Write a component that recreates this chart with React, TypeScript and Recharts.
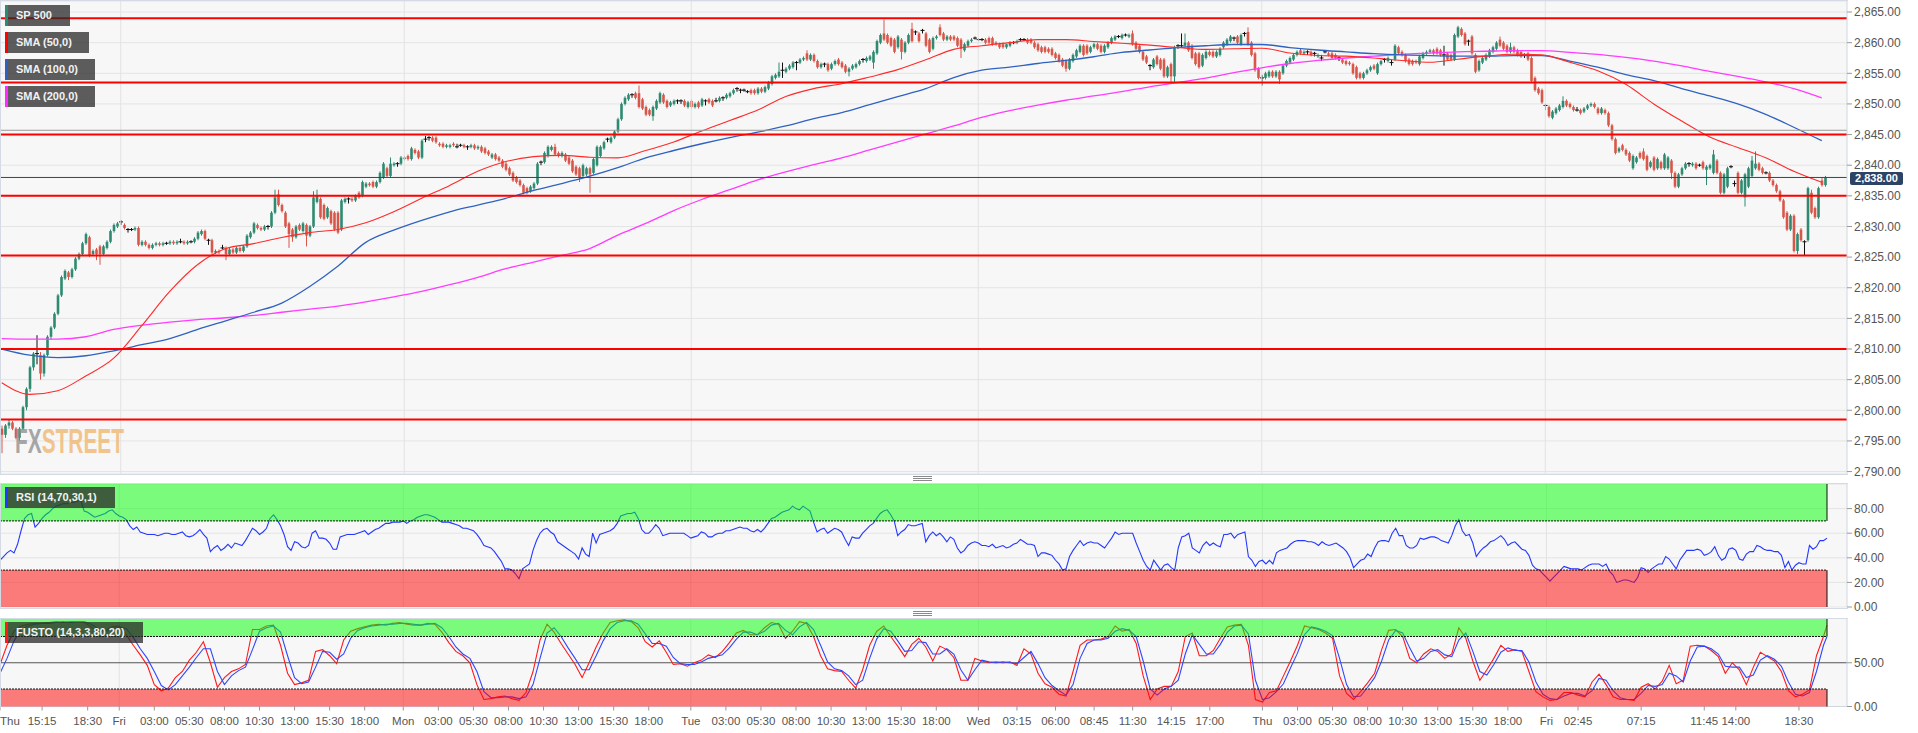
import React from "react";
import { ComposedChart, Bar, Line, XAxis, YAxis, CartesianGrid, ReferenceLine, ReferenceArea } from "recharts";

const FONT = "'Liberation Sans', Arial, sans-serif";

// 15-minute candles [open, high, low, close], one array per session
const THU1 = [
  [2797,2797.5,2793,2796],[2796,2797.75,2795.5,2797.5],[2797.5,2798.5,2797,2798],[2798,2798.25,2796.75,2797],[2797,2797.25,2795.25,2795.5],
  [2795.5,2797.25,2795,2797],[2797,2800.75,2796.75,2800.5],[2800.5,2803.75,2800,2803.5],[2803.5,2807.25,2803,2807],[2807,2809.5,2806.5,2809.25],
  [2809.25,2812.25,2807.5,2809.25],[2809,2809.5,2805,2806],[2806,2809.25,2805.5,2809],[2809,2812.25,2808.75,2812],[2812,2813.75,2811.5,2813.5],
  [2813.5,2816,2813.25,2815.75],[2815.75,2819,2815.5,2818.75],[2818.75,2822,2818.5,2821.75],[2821.5,2823,2821.25,2822.75],[2822.5,2822.75,2821.25,2821.75],
  [2821.75,2823.25,2821.5,2823],[2823,2825,2822.75,2824.75],[2824.75,2825.75,2824.5,2825.5],[2825.5,2827.5,2825.25,2827.25],[2827.25,2829,2827,2828.75],
  [2828.25,2828.5,2825,2825.25],[2825.5,2826.25,2825.25,2826],[2826.25,2826.5,2824.5,2825.5],[2826.75,2827,2823.75,2825.5],[2825.5,2827,2825.25,2826.75],
  [2826.5,2827.75,2826.25,2827.5],[2827.5,2829.5,2827.25,2829.25],[2829.25,2830.5,2829,2830.25],[2830,2830.75,2829.75,2830.5],
];
const FRI1 = [
  [2830.75,2831,2830.25,2830.75],[2830.25,2830.5,2829.5,2829.75],[2829.5,2829.75,2829,2829.5],[2829.5,2829.75,2829.25,2829.5],[2829.5,2830,2829.25,2829.75],
  [2829.75,2830,2826.75,2827],[2827,2827.75,2826.75,2827.5],[2827.5,2827.75,2826.75,2827],[2827,2827.25,2826.25,2826.5],[2826.5,2827.25,2826.25,2827],
  [2827,2827.5,2826.75,2827.25],[2827.25,2827.5,2826.75,2827],[2827,2827.5,2826.75,2827.25],[2827.25,2827.5,2827,2827.25],[2827.25,2827.75,2827,2827.5],
  [2827.5,2827.75,2827,2827.25],[2827.25,2827.75,2827,2827.5],[2827.5,2828,2827.25,2827.5],[2827.5,2827.75,2827,2827.25],[2827.25,2827.75,2827,2827.5],
  [2827.5,2827.75,2827.25,2827.5],[2827.5,2828.25,2827.25,2828],[2828,2829.25,2827.75,2829],[2828.75,2829.5,2828.5,2829.25],[2829.25,2829.5,2827.75,2828],
  [2827.75,2828,2827,2827.75],[2827.75,2828,2825.5,2825.75],[2825.75,2826.25,2825.5,2826],[2826,2826.25,2825.5,2825.75],[2826.5,2827,2826.25,2826.5],
  [2826.5,2826.75,2824.5,2825.5],[2825.5,2826.5,2825.25,2826.25],[2826.25,2826.5,2825.5,2825.75],[2825.75,2826.75,2825.5,2826.5],[2826.5,2826.75,2825.75,2826],
  [2826,2827,2825.75,2826.75],[2826.75,2828.75,2826.5,2828.5],[2828.25,2829.25,2828,2829],[2829,2830.75,2828.75,2830.5],[2830.25,2830.5,2829.5,2829.75],
  [2829.75,2830,2829.25,2829.5],[2829.5,2830.25,2829.25,2830],[2830,2830.25,2829.5,2830],[2830,2832.5,2829.75,2832.25],[2832.25,2836,2832,2834.75],
  [2835.25,2836,2833.25,2833.5],[2833.5,2833.75,2832.25,2832.5],[2832.25,2832.5,2829.75,2830],[2830.5,2830.75,2826.5,2828.75],[2829.5,2829.75,2827.5,2828.25],
  [2828.25,2830.25,2828,2830],[2830.25,2830.5,2829.25,2829.5],[2829.25,2830.75,2829,2830.5],[2830.25,2830.5,2826.75,2828.5],[2828.5,2830.25,2828.25,2830],
  [2830,2835.75,2829.75,2834.75],[2834,2836,2833.75,2835],[2834.5,2834.75,2831.25,2831.5],[2833.5,2833.75,2831,2831.25],[2831.5,2833.25,2831.25,2833],
  [2832.5,2832.75,2830.25,2830.5],[2832.25,2832.5,2829.25,2829.5],[2832.25,2832.5,2828.75,2829],[2829.5,2834.5,2829.25,2834.25],[2834,2834.75,2833.75,2834.5],
  [2834.5,2834.75,2833.75,2834.5],[2834.5,2834.75,2834,2834.25],[2834.25,2835.25,2834,2835],[2835.5,2835.75,2834.5,2834.75],[2835,2837.5,2834.75,2837.25],
  [2836.5,2837.25,2836.25,2837],[2837,2837.25,2836.5,2836.75],[2837.25,2837.5,2836.25,2836.5],[2836.5,2837.5,2836.25,2837.25],[2837.25,2839,2837,2838.75],
  [2838,2840.5,2837.75,2840.25],[2839.5,2839.75,2838,2838.25],[2838.25,2841.25,2838,2840.25],[2840,2840.5,2839.75,2840.25],[2840.25,2840.5,2839.75,2840.25],
  [2840.25,2841.5,2840,2841.25],
];
const MON = [
  [2841,2841.5,2840.75,2841.25],[2841.5,2841.75,2840.75,2841],[2841,2843,2840.75,2842.75],[2842.5,2842.75,2841.75,2842],[2842.25,2842.5,2841,2841.25],
  [2841.25,2844.25,2841,2844],[2844.25,2844.75,2843.75,2844.25],[2844.5,2844.75,2844,2844.5],[2844.5,2844.75,2843.75,2844],[2844.5,2844.75,2843.5,2843.75],
  [2843.5,2843.75,2843,2843.25],[2843.5,2843.75,2842.75,2843],[2843,2843.5,2842.75,2843.25],[2843,2843.5,2842.75,2843.25],[2843.5,2843.75,2843,2843.25],
  [2843,2843.5,2842.75,2843],[2843.25,2843.5,2843,2843.25],[2843.25,2843.5,2842.75,2843],[2843,2843.25,2842.5,2843],[2843,2843.5,2842.75,2843.25],
  [2843.25,2843.5,2842.5,2842.75],[2842.75,2843.25,2842.5,2843],[2843,2843.25,2842,2842.25],[2842.75,2843,2841.75,2842],[2842.25,2842.5,2841.5,2841.75],
  [2841.25,2842,2841,2841.75],[2841.75,2842,2840.75,2841],[2841.25,2841.5,2840.5,2840.75],[2840.75,2841,2839.5,2839.75],[2840.25,2840.5,2839,2839.25],
  [2839.5,2839.75,2838.25,2838.5],[2838.75,2839,2837.25,2837.5],[2838,2838.25,2837,2837.25],[2837.5,2837.75,2836.5,2836.75],[2836.75,2837,2835.25,2835.5],
  [2836.25,2836.5,2835.25,2835.5],[2835.75,2836.75,2835.5,2836.5],[2836.25,2837.25,2836,2837],[2837,2840.5,2836.75,2840.25],[2840.5,2840.75,2840,2840.5],
  [2840.5,2842.25,2840.25,2842],[2841.5,2843.25,2841.25,2843],[2842.5,2843.25,2842.25,2843],[2843,2843.5,2841.5,2841.75],[2842,2842.25,2841.25,2841.5],
  [2841.5,2842.25,2841.25,2842],[2841.75,2842,2840.5,2840.75],[2841.25,2841.5,2840,2840.25],[2840.75,2841,2838.75,2839],[2839.75,2840,2838.25,2838.5],
  [2839.5,2839.75,2837.25,2838],[2838.25,2840.25,2838,2840],[2838.5,2839.75,2838.25,2839.5],[2839.5,2839.75,2835.5,2838.5],[2838.75,2841.25,2838.5,2841],
  [2840,2843.25,2839.75,2843],[2841.5,2843.25,2841.25,2843],[2842.75,2844,2842.5,2843.75],[2844.25,2844.5,2843.75,2844.25],[2843.75,2844.75,2843.5,2844.5],
  [2844.5,2845.75,2844.25,2845.5],[2845.5,2847.75,2845.25,2847.5],[2847.5,2850.25,2847.25,2850],[2850,2851.25,2849.75,2851],[2850.75,2851.75,2850.5,2851.5],
  [2851.5,2851.75,2851,2851.5],[2851.75,2852,2850.75,2851],[2851.75,2853,2849.25,2849.5],[2850.75,2851,2849,2849.25],[2849.5,2849.75,2848,2848.25],
  [2849,2849.25,2848,2848.25],[2848,2849.75,2847.25,2849.5],[2849.25,2850.75,2849,2850.5],[2850.25,2852,2850,2851.75],[2851.5,2851.75,2850,2850.25],
  [2850.5,2850.75,2849.25,2849.5],[2849.75,2850.5,2849.5,2850.25],[2850,2850.75,2849.75,2850.5],[2850.5,2850.75,2850,2850.5],[2850.5,2850.75,2850,2850.5],
  [2850.5,2850.75,2849.5,2849.75],[2849.5,2850.5,2849.25,2850.25],
];
const TUE = [
  [2850.5,2850.75,2849.25,2849.5],[2849.5,2850.25,2849.25,2850],[2850.25,2850.5,2849.25,2849.5],[2849.75,2851,2849.5,2850.75],[2850.5,2850.75,2849.75,2850.5],
  [2850.75,2851,2850,2850.25],[2850.5,2850.75,2849.5,2849.75],[2850.5,2851,2850.25,2850.5],[2850.5,2851.25,2850.25,2851],[2851,2851.25,2850.5,2851],
  [2851,2851.75,2850.75,2851.5],[2851.25,2852,2851,2851.75],[2851.75,2852.5,2851.5,2852.25],[2852.5,2852.75,2852,2852.5],[2852.25,2852.5,2851.75,2852.25],
  [2852.25,2852.5,2852,2852.25],[2852,2852.25,2851.75,2852],[2852.25,2852.5,2851.5,2851.75],[2852.25,2852.5,2851.5,2851.75],[2851.75,2852.75,2851.5,2852.5],
  [2852.5,2852.75,2851.75,2852],[2852,2853,2851.75,2852.75],[2852.5,2853.75,2852.25,2853.5],[2853.25,2854.75,2853,2854.5],[2854.25,2855,2854,2854.75],
  [2854.5,2856.75,2854.25,2855.25],[2855.5,2856.75,2854.25,2855.5],[2855.25,2856,2855,2855.75],[2855.75,2856.5,2855.5,2856.25],[2856,2857,2855.75,2856.75],
  [2856.75,2857,2855.5,2856.75],[2856.75,2857.5,2856.5,2857.25],[2857.25,2857.75,2857,2857.5],[2858.25,2858.75,2857,2857.25],[2857.25,2858.25,2857,2858],
  [2858,2858.25,2856.75,2857],[2857,2857.25,2855.75,2856],[2856,2856.75,2855.75,2856.5],[2856.5,2856.75,2856,2856.5],[2856.5,2856.75,2855.25,2855.5],
  [2855.75,2856.75,2855.5,2856.5],[2856.5,2857.25,2856.25,2857],[2857.25,2857.5,2856.25,2856.5],[2856.75,2857,2855.75,2856],[2856.25,2856.5,2855,2855.25],
  [2855.25,2856,2854.5,2855.75],[2855.75,2856.5,2855.5,2856.25],[2856,2856.75,2855.75,2856.5],[2856.5,2857.25,2856.25,2857],[2857.25,2857.5,2856.75,2857.25],
  [2857,2857.75,2856.75,2857.5],[2857.25,2858,2857,2857.75],[2856.75,2858.75,2855.75,2858.5],[2858.25,2860.5,2858,2860.25],[2860,2861.5,2859.75,2861.25],
  [2861.5,2863.75,2860.25,2860.5],[2861.25,2861.5,2859.75,2860],[2860.75,2861,2859.25,2859.5],[2860.5,2860.75,2858.25,2858.5],[2859.25,2861.25,2859,2861],
  [2860.5,2860.75,2857.25,2858.5],[2858.5,2860.25,2858.25,2860],[2860,2861.5,2859.75,2861.25],[2862.25,2863.25,2860,2860.25],[2861.75,2862,2861.25,2861.75],
  [2861.5,2861.75,2860,2860.25],[2862,2862.25,2861.5,2862],[2861.5,2861.75,2859.25,2859.5],[2860.5,2860.75,2858.25,2858.5],[2859,2861,2858.75,2860.75],
  [2860.75,2861.25,2860.5,2861],[2862.5,2863,2861,2861.25],[2861.5,2861.75,2860.25,2860.5],[2860.5,2861.25,2860.25,2861],[2861,2861.25,2860.25,2860.5],
  [2861,2861.25,2860.25,2860.5],[2860.75,2861,2859.25,2859.5],[2860.5,2860.75,2857.5,2859],[2858.75,2860,2858.5,2859.75],[2859.5,2860.5,2859.25,2860.25],
  [2860.25,2860.75,2860,2860.5],[2860.75,2861,2860.5,2860.75],
];
const WED = [
  [2860.5,2860.75,2860.25,2860.5],[2860.5,2860.75,2860.25,2860.5],[2860.5,2860.75,2859.75,2860],[2860.75,2861,2859.75,2860],[2860.75,2861,2859.5,2859.75],
  [2860,2860.25,2859.5,2859.75],[2859.75,2860,2859,2859.25],[2859.75,2860,2859,2859.25],[2859.25,2859.75,2859,2859.75],[2859.5,2860.25,2859.25,2860],
  [2860,2860.25,2859.75,2860],[2860,2860.5,2859.75,2860.25],[2860.5,2860.75,2860.25,2860.5],[2860.5,2860.75,2860.25,2860.5],[2860.5,2860.75,2859.75,2860],
  [2860.5,2860.75,2859.75,2860],[2860,2860.25,2859,2859.25],[2859.75,2860,2858.5,2858.75],[2859.25,2859.5,2858.25,2858.5],[2859.25,2859.5,2858.25,2858.5],
  [2859,2859.25,2858.25,2858.5],[2859,2859.25,2857.75,2858],[2858.25,2858.5,2857.25,2857.5],[2858,2858.25,2856.75,2857],[2857.25,2857.5,2856,2856.25],
  [2857,2857.25,2855.25,2855.75],[2855.75,2857.5,2855.5,2857.25],[2857,2858.25,2856.75,2858],[2857.75,2859,2857.5,2858.75],[2858.5,2859.75,2858.25,2859.5],
  [2859.5,2859.75,2857.75,2858],[2859.5,2859.75,2858,2858.25],[2858.5,2859.5,2858.25,2859.25],[2859.25,2860,2859,2859.75],[2859.75,2860,2858.75,2859],
  [2859.5,2859.75,2858.25,2858.5],[2858.5,2859.75,2858.25,2859.5],[2859.25,2860.25,2859,2860],[2860,2861,2859.75,2860.75],[2860.5,2861.25,2860.25,2861],
  [2861,2861.25,2860.75,2861],[2860.75,2861.5,2860.5,2861.25],[2861.25,2861.5,2861,2861.25],[2861,2861.5,2860.75,2861.25],[2861.5,2862,2859.5,2859.75],
  [2860,2860.25,2858.75,2859],[2859.5,2859.75,2858.25,2858.5],[2858.5,2858.75,2857,2857.25],[2857.75,2858,2856.5,2856.75],[2856.25,2856.5,2855.5,2856.25],
  [2856,2857.5,2855.75,2857.25],[2857.75,2858,2856.25,2856.5],[2857.25,2857.5,2855.5,2855.75],[2857.25,2857.5,2854.25,2854.5],[2854.5,2856.25,2854.25,2856],
  [2856.5,2856.75,2853.5,2854.5],[2854.5,2859.5,2853.5,2859.25],[2859.5,2859.75,2859,2859.5],[2859.5,2861.5,2859.25,2859.5],[2859.5,2861.5,2859.25,2860],
  [2860,2860.25,2858.5,2858.75],[2859.5,2859.75,2857.25,2857.5],[2858.25,2858.5,2856.25,2856.5],[2858.25,2858.5,2855.75,2856],[2856.25,2858.25,2856,2858],
  [2857.5,2858.75,2857.25,2858.5],[2858.5,2858.75,2857.75,2858],[2858.5,2858.75,2857.5,2857.75],[2857.75,2858.75,2857.5,2858.5],[2858,2859.25,2857.75,2859],
  [2859.25,2860.25,2859,2860],[2859.75,2860.75,2859.5,2860.5],[2860.25,2861.25,2860,2861],[2860.75,2861,2860.25,2860.75],[2861,2861.25,2859.75,2860],
  [2859.75,2861.5,2859.5,2861.25],[2861.5,2861.75,2861,2861.5],[2861.75,2862.5,2859.5,2859.75],[2860,2860.25,2857.75,2858],[2858.25,2858.5,2855.25,2855.5],
  [2855.75,2856,2854,2854.25],
];
const THU2 = [
  [2854.25,2854.75,2853,2854.25],[2854.25,2855.25,2854,2855],[2854.5,2855.5,2854.25,2855.25],[2855.25,2855.5,2854.25,2854.5],[2854.5,2855.5,2854.25,2855.25],
  [2855.25,2855.5,2853.25,2854],[2855,2856.5,2854.75,2856.25],[2856.25,2857.25,2856,2857],[2856.75,2857.75,2856.5,2857.5],[2857.25,2858.25,2857,2858],
  [2858,2858.75,2857.75,2858.5],[2858.75,2859,2858,2858.25],[2858.25,2858.75,2858,2858.5],[2858.5,2858.75,2858,2858.5],[2858.5,2858.75,2857.75,2858],
  [2858.25,2858.5,2857.75,2858.25],[2857.75,2858.25,2857.5,2858],[2857.5,2858,2857,2857.5],[2858.5,2858.75,2858.25,2858.5],[2858.25,2858.5,2857.75,2858],
  [2858.25,2858.5,2857.25,2857.5],[2858,2858.25,2857.25,2857.5],[2857.5,2857.75,2857,2857.5],[2857.25,2857.5,2856.5,2856.75],[2857,2857.25,2856.25,2856.5],
  [2856.75,2857,2856.25,2856.5],[2856.5,2856.75,2854.75,2855],[2856,2856.25,2854,2854.25],[2855,2855.25,2854,2854.25],[2854.25,2855.25,2854,2855],
  [2855,2855.75,2854.75,2855.5],[2855.5,2856.25,2855.25,2856],[2856.25,2856.5,2855.5,2855.75],[2855,2856.75,2854.75,2856.5],[2856.5,2857.25,2856.25,2857],
  [2857.25,2857.5,2856.75,2857.25],[2857,2857.75,2856.75,2857.5],[2856.75,2857.25,2856.25,2856.75],[2857.25,2859.75,2857,2859.5],[2859.25,2859.5,2858,2858.25],
  [2858.5,2858.75,2857.75,2858],[2858,2858.25,2856.75,2857],[2857.25,2857.5,2856.25,2856.5],[2857,2857.25,2856.25,2856.5],[2857,2857.25,2856.5,2856.75],
  [2856.5,2858,2856.25,2857.75],[2857.5,2858.5,2857.25,2858.25],[2858.25,2858.75,2858,2858.5],[2858.5,2859,2858.25,2858.75],[2858.75,2859,2858,2858.25],
  [2859,2859.25,2858,2858.25],[2858.75,2859,2857.75,2858],[2858,2859.5,2856.25,2858],[2858.25,2858.5,2857,2857.25],[2858,2858.25,2857,2857.25],
  [2857.25,2861.5,2857,2861.25],[2861,2862.75,2860.75,2862.5],[2862.25,2862.5,2861,2861.25],[2861.5,2861.75,2859.5,2859.75],[2860.25,2860.5,2859.5,2860.25],
  [2861,2861.25,2858,2858.25],[2858,2858.25,2855,2855.25],[2855.5,2857.25,2855.25,2857],[2856.75,2857.75,2856.5,2857.5],[2857.25,2858.25,2857,2858],
  [2857.75,2859,2857.5,2858.75],[2858.5,2859.5,2858.25,2859.25],[2859,2860.25,2858.75,2860],[2860.5,2861,2859.25,2859.5],[2860,2860.25,2858.75,2859],
  [2859.5,2859.75,2858.25,2858.5],[2858.5,2860,2858.25,2859.25],[2859.25,2859.5,2858.25,2858.5],[2858.75,2859,2857.75,2858],[2858.5,2858.75,2857.5,2857.75],
  [2858,2858.25,2857.5,2858],[2858.25,2858.5,2857,2857.25],[2857.5,2857.75,2853.5,2853.75],[2854.25,2854.5,2852,2852.25],[2852.5,2852.75,2851.5,2851.75],
  [2852.25,2852.5,2850,2850.25],
];
const FRI2 = [
  [2849.75,2850,2849,2849.75],[2849.5,2849.75,2847.75,2848],[2847.75,2849,2847.5,2848.75],[2848.5,2849.5,2848.25,2849.25],[2849,2850,2848.75,2849.75],
  [2849.5,2851.25,2849.25,2850.5],[2850.5,2850.75,2849.5,2849.75],[2850,2850.25,2849.25,2849.5],[2849.5,2849.75,2848.75,2849],[2849,2849.5,2848.75,2849],
  [2849,2849.25,2848.25,2848.5],[2848.75,2849.5,2848.5,2849.25],[2849.25,2850,2849,2849.75],[2849.75,2850.25,2849.5,2850],[2850,2850.25,2849.25,2849.5],
  [2849.25,2849.5,2848.25,2848.5],[2848.5,2849.5,2848.25,2849.25],[2849,2849.25,2848.25,2848.5],[2848.5,2848.75,2846.25,2846.5],[2846.5,2846.75,2844,2844.25],
  [2844.25,2844.5,2841.75,2842],[2842.25,2843,2842,2842.75],[2843.25,2843.5,2842.25,2842.5],[2842.5,2842.75,2841.5,2841.75],[2842,2842.25,2840.5,2840.75],
  [2839.5,2841.75,2839.25,2841.5],[2840.5,2841.5,2840.25,2841.25],[2842,2842.25,2841,2841.25],[2842.25,2842.75,2840.75,2841],[2841.5,2841.75,2839,2839.25],
  [2839.75,2840.75,2839.5,2840.5],[2841.25,2841.5,2839,2839.25],[2839.5,2841.25,2839.25,2841],[2840.5,2840.75,2839.25,2839.5],[2839.5,2842,2839.25,2841.75],
  [2839.5,2841.5,2839.25,2841.25],[2840.75,2841,2837.75,2838.75],[2838.75,2839,2836.25,2836.5],[2836.5,2838.75,2836.25,2838.5],[2838.5,2839.75,2838.25,2839.5],
  [2839.5,2840.5,2839.25,2840.25],[2840.25,2840.5,2839.75,2840.25],[2840,2840.5,2839.75,2840.25],[2840.25,2840.5,2839.25,2839.5],[2840,2840.25,2839.75,2840],
  [2840.5,2840.75,2839.25,2839.5],[2839.25,2840,2836.75,2839.75],[2839.5,2840.25,2839.25,2840],[2838.75,2842.5,2838.5,2841.75],[2840.75,2841,2838.5,2838.75],
  [2838.75,2839,2835.25,2835.5],[2835.5,2838.75,2835.25,2838.5],[2836.5,2839.75,2836.25,2839.5],[2839.75,2840,2839.5,2839.75],[2837,2837.5,2836.5,2837],
  [2838.75,2839,2835.25,2835.5],[2835.5,2837.75,2835.25,2837.5],[2834.75,2838.75,2833.25,2838.5],[2836.5,2839.75,2836.25,2839.5],[2838.25,2841.5,2838,2840.75],
  [2839.5,2842.25,2839.25,2840.25],[2840.25,2840.5,2839,2839.25],[2839.5,2839.75,2838.5,2838.75],[2838.75,2839,2838.5,2838.75],[2838.75,2839,2837.25,2837.5],
  [2837.5,2837.75,2836.5,2836.75],[2836.75,2837,2835.5,2835.75],[2835.75,2836,2834,2834.25],[2834.25,2834.5,2831.25,2831.5],[2832.25,2832.5,2829.25,2829.5],
  [2829.5,2832,2829.25,2831.75],[2831.75,2832,2825.75,2826],[2826,2829,2825.5,2828.75],[2829.5,2829.75,2827.5,2827.75],[2827.5,2827.75,2825.25,2827.5],
  [2827.75,2836.5,2827.5,2836.25],[2835.5,2836,2832,2832.25],[2833,2833.25,2831.25,2831.5],[2831.5,2836.5,2831.25,2836.25],[2837.5,2838,2836.5,2836.75],
  [2836.75,2838.25,2836.5,2838],
];

// x-axis labels, placed at bar index
const TICK_BARS = [0,12,25,34,44,54,64,74,84,94,104,115,125,135,145,155,165,175,185,197,207,217,227,237,247,257,267,279,290,301,312,323,334,345,360,370,380,390,400,410,420,430,441,450,468,486,495,513];
const TICK_TEXT = ["Thu","15:15","18:30","Fri","03:00","05:30","08:00","10:30","13:00","15:30","18:00","Mon","03:00","05:30","08:00","10:30","13:00","15:30","18:00","Tue","03:00","05:30","08:00","10:30","13:00","15:30","18:00","Wed","03:15","06:00","08:45","11:30","14:15","17:00","Thu","03:00","05:30","08:00","10:30","13:00","15:30","18:00","Fri","02:45","07:15","11:45","14:00","18:30"];
const DAY_STARTS = [34, 115, 197, 279, 360, 441];

const PRICE_TICKS = [2790,2795,2800,2805,2810,2815,2820,2825,2830,2835,2840,2845,2850,2855,2860,2865];
const LEVELS = [2864, 2853.5, 2845, 2835, 2825.25, 2810, 2798.5];
const PREV_LEVEL = 2845.7;
const LAST_PRICE = 2838;

// moving averages, one value every SMA_STEP bars
const SMA_STEP = 8;
const SMA50 = [
  2804.5,2802.6,2803.2,2805.6,2808.5,2813.8,2819.4,2823.8,2826.4,2827.2,
  2828.2,2829.0,2829.5,2830.6,2832.4,2834.6,2836.7,2839.0,2840.6,2841.4,
  2841.6,2841.3,2841.2,2842.4,2843.8,2845.6,2847.3,2849.0,2851.2,2852.5,
  2853.3,2854.4,2855.6,2857.2,2858.9,2859.5,2860.0,2860.5,2860.5,2860.2,
  2859.9,2859.6,2859.2,2858.9,2859.0,2859.1,2858.3,2857.9,2857.8,2857.5,
  2857.1,2856.8,2857.3,2857.8,2858.1,2858.0,2856.8,2855.4,2853.2,2850.0,
  2847.2,2844.6,2842.9,2841.2,2839.0,2837.2,
];
const SMA100 = [
  2810.0,2809.0,2808.6,2808.9,2809.7,2810.7,2811.7,2813.2,2814.6,2816.0,
  2817.5,2820.2,2823.5,2827.4,2829.4,2831.0,2832.4,2833.5,2834.6,2835.9,
  2837.0,2838.2,2839.6,2841.2,2842.4,2843.5,2844.5,2845.4,2846.4,2847.6,
  2848.6,2849.9,2851.2,2852.5,2854.3,2855.5,2856.0,2856.6,2857.1,2857.7,
  2858.4,2858.8,2859.2,2859.5,2859.7,2859.7,2859.2,2858.8,2858.5,2858.2,
  2858.0,2857.9,2857.8,2857.8,2857.9,2857.9,2857.0,2856.0,2854.8,2853.8,
  2852.5,2851.3,2850.0,2848.3,2846.2,2844.0,
];
const SMA200 = [
  2811.7,2811.6,2811.6,2812.0,2813.2,2813.9,2814.4,2814.8,2815.1,2815.5,
  2816.0,2816.5,2817.0,2817.7,2818.5,2819.4,2820.5,2821.7,2823.1,2824.2,
  2825.3,2826.4,2828.6,2830.5,2832.6,2834.4,2836.0,2837.6,2838.9,2840.1,
  2841.2,2842.5,2843.8,2845.1,2846.4,2847.8,2848.9,2849.8,2850.6,2851.3,
  2852.0,2852.8,2853.5,2854.2,2855.1,2855.9,2856.6,2857.1,2857.5,2857.8,
  2858.1,2858.3,2858.5,2858.6,2858.7,2858.7,2858.4,2858.1,2857.6,2857.0,
  2856.2,2855.3,2854.5,2853.6,2852.5,2851.0,
];

// RSI (14), one value per bar
const RSI = [
  38,41,44,46,44,51,62,72,75,76, 65,68,72,75,77,80,82,83,84,84, 85,85,86,87,78,77,75,73,74,75, 76,78,79,76,74,73,71,66,63,65,
  61,60,59,59,59,58,59,60,60,59, 59,60,61,58,57,58,60,63,59,56, 45,48,50,46,48,51,48,52,51,50, 54,59,64,62,59,61,64,72,75,71,
  66,59,49,46,53,52,49,48,50,60, 62,56,56,55,52,47,47,57,58,59, 59,59,60,61,62,59,61,63,64,66, 68,68,69,69,69,70,68,70,71,73,
  74,75,75,74,73,71,69,69,69,68, 67,66,64,64,63,62,59,55,50,49, 48,45,41,37,31,31,30,27,23,31, 33,35,46,54,60,63,64,61,59,53,
  51,49,47,45,43,39,48,43,41,60, 52,59,60,61,62,64,68,74,75,76, 76,77,72,63,60,60,63,67,64,58, 59,60,60,60,60,60,58,56,57,58,
  61,60,57,57,59,60,60,62,62,63, 64,65,64,64,62,61,63,61,64,68, 72,73,75,77,78,79,82,80,79,82, 80,78,69,61,63,64,60,62,64,63,
  61,55,50,57,56,56,60,63,66,68, 72,76,78,79,75,70,58,61,63,67, 66,66,67,68,53,58,61,58,60,57, 53,57,55,48,44,46,50,52,53,52,
  50,50,49,51,48,49,50,48,49,51, 52,55,53,51,51,50,41,44,44,43, 42,38,35,30,31,41,46,50,54,50, 52,53,52,52,50,48,52,56,61,59,
  60,60,60,60,52,45,38,33,30,38, 34,30,34,35,32,30,48,57,58,60, 48,46,44,50,53,50,52,50,49,59, 59,60,56,59,60,61,41,38,33,37,
  38,35,38,35,44,46,47,48,51,53, 54,54,54,53,53,52,50,53,51,50, 51,52,50,48,45,40,32,35,38,39, 43,41,48,53,54,54,53,60,64,58,
  58,50,48,48,50,56,55,56,57,57, 56,54,53,52,58,66,71,62,58,59, 52,41,45,48,50,53,54,56,58,55, 50,52,53,50,47,46,42,34,31,30,
  27,24,21,24,27,30,33,32,31,31, 31,30,32,34,35,35,35,33,35,29, 26,20,21,22,22,21,20,24,32,31, 28,31,33,35,35,41,39,35,31,38,
  42,46,46,46,47,46,42,43,45,49, 42,38,40,47,48,46,39,38,43,45, 45,50,49,47,46,46,45,45,42,32, 37,30,34,36,35,35,50,47,49,54,
  54,56,
];

// full stochastic %K (red) and %D (blue): every second bar, last value on the final bar
const STOCH_K = [
  48,70,86,92,94,95,95,96,97,96, 97,97,96,91,85,87,91,92,82,70, 59,47,25,18,21,33,40,53,62,74, 50,22,33,40,43,48,88,88,92,93,
  70,38,25,27,30,63,65,58,49,76, 86,89,91,93,94,93,95,96,94,93, 93,95,94,85,73,63,58,50,25,8, 9,11,12,9,7,16,40,76,94,85,
  72,60,48,33,50,68,84,96,98,99, 97,90,74,68,75,62,48,49,46,50, 53,59,56,63,73,84,87,82,82,90, 96,94,78,86,97,95,80,58,43,41,
  40,30,21,42,70,86,92,80,69,57, 71,78,68,52,69,65,56,30,30,55, 52,50,51,50,51,47,66,60,38,26, 22,14,12,40,70,76,76,77,80,92,
  86,88,72,35,8,20,23,23,40,80, 84,58,58,64,78,91,93,94,70,8, 5,16,18,35,52,70,92,90,88,84, 78,35,15,8,17,27,38,65,87,88,
  80,55,50,60,66,63,55,60,90,78, 52,30,42,55,70,63,65,63,40,17, 11,7,8,16,16,13,11,28,37,25, 11,8,8,7,22,26,20,29,47,26,
  30,69,70,69,64,57,38,50,42,25, 45,62,57,52,40,18,11,14,19,58, 80,93,
];
const STOCH_D = [
  38,55,75,88,92,94,95,95,96,97, 96,97,97,94,89,86,88,91,89,79, 66,55,40,24,19,25,35,45,56,66, 66,40,25,35,41,45,65,86,90,92,
  85,58,33,26,28,45,63,62,54,60, 78,87,90,92,93,94,94,95,95,94, 93,94,95,90,80,68,60,55,40,17, 10,10,11,11,9,11,25,55,84,90,
  80,67,55,42,42,58,75,89,96,98, 98,94,83,72,72,69,56,49,48,48, 51,55,57,59,67,77,85,85,82,86, 93,95,87,82,91,96,88,70,51,43,
  41,35,25,30,55,77,89,86,75,63, 64,74,73,60,60,66,60,42,30,42, 53,51,50,51,50,49,56,63,49,33, 24,18,13,25,55,72,76,76,78,86,
  89,87,80,52,20,13,20,23,30,60, 82,71,60,60,71,85,92,93,83,30, 8,10,17,26,44,61,82,91,89,86, 81,55,25,11,12,22,33,52,76,87,
  84,67,52,55,63,65,59,57,76,84, 63,40,36,48,62,67,64,64,51,28, 14,9,8,12,15,15,12,18,32,30, 18,10,8,8,15,24,23,25,38,35,
  28,52,68,69,66,60,46,45,45,33, 36,53,58,54,46,28,14,12,16,40, 70,80,
];

const CANDLES = [...THU1, ...FRI1, ...MON, ...TUE, ...WED, ...THU2, ...FRI2];
const LAST = CANDLES.length - 1;
const stochBar = (k: number) => (k < STOCH_K.length - 1 ? k * 2 : LAST);
const kAt = new Map<number, number>();
const dAt = new Map<number, number>();
STOCH_K.forEach((v, k) => kAt.set(stochBar(k), v));
STOCH_D.forEach((v, k) => dAt.set(stochBar(k), v));
const smaAt = (arr: number[], i: number) => (i % SMA_STEP === 0 && i / SMA_STEP < arr.length ? arr[i / SMA_STEP] : null);

const rows = CANDLES.map(([o, h, l, c], i) => ({
  i, o, h, l, c,
  range: [l, h],
  s50: smaAt(SMA50, i),
  s100: smaAt(SMA100, i),
  s200: smaAt(SMA200, i),
  rsi: RSI[i],
  k: kAt.get(i) ?? null,
  d: dAt.get(i) ?? null,
}));

const W = 1918;
const AXIS_W = 71;
const X_PAD = { left: 0, right: 20 };
const UP = "#2e8a70";
const DOWN = "#d8574a";

function Candle(props: any) {
  const { x, y, width, height, payload } = props;
  if (payload == null || height == null) return null;
  const { o, h, l, c } = payload;
  const cx = x + width / 2;
  const span = h - l || 1;
  const py = (v: number) => y + ((h - v) / span) * height;
  const flat = o === c;
  const color = flat ? "#111" : c > o ? UP : DOWN;
  const top = py(Math.max(o, c));
  const bot = py(Math.min(o, c));
  return (
    <g>
      <line x1={cx} x2={cx} y1={y} y2={y + height} stroke={color} strokeWidth={1} />
      {flat ? (
        <line x1={cx - 2} x2={cx + 2} y1={top} y2={top} stroke={color} strokeWidth={1} />
      ) : (
        <rect x={cx - 1.3} y={top} width={2.6} height={Math.max(bot - top, 1)} fill={color} />
      )}
    </g>
  );
}

const fmt = (v: number) => v.toLocaleString("en-US", { minimumFractionDigits: 2, maximumFractionDigits: 2 });

function XTick(props: any) {
  const { x, y, payload } = props;
  const idx = TICK_BARS.indexOf(payload.value);
  const first = payload.value === 0;
  return (
    <text x={first ? 0 : x} y={y} dy="0.71em" textAnchor={first ? "start" : "middle"} fontSize={11.5} fill="#555" fontFamily={FONT}>
      {TICK_TEXT[idx]}
    </text>
  );
}

const yAxisProps = {
  orientation: "right" as const,
  width: AXIS_W,
  tick: { fontSize: 12, fill: "#555", fontFamily: FONT },
  tickLine: { stroke: "#999" },
  axisLine: { stroke: "#cfd6e0" },
  tickSize: 5,
  tickMargin: 2,
  interval: 0 as const,
  tickFormatter: fmt,
  allowDataOverflow: true,
};

function Tag({ x, y, w, bar, text }: { x: number; y: number; w: number; bar: string; text: string }) {
  return (
    <div
      style={{
        position: "absolute", left: x, top: y, width: w, height: 21, boxSizing: "border-box",
        background: "rgba(40,40,40,0.75)", borderLeft: `3px solid ${bar}`, color: "#f2f2f2",
        font: `bold 11px ${FONT}`, lineHeight: "21px", paddingLeft: 8, whiteSpace: "nowrap",
      }}
    >
      {text}
    </div>
  );
}

function Handle({ y }: { y: number }) {
  return (
    <div style={{ position: "absolute", left: 913, top: y, width: 19 }}>
      {[0, 2, 4].map((d) => (
        <div key={d} style={{ position: "absolute", top: d, width: 19, height: 1, background: "#8a8a8a" }} />
      ))}
    </div>
  );
}

// the overbought / oversold zones with their dotted inner edge and solid right edge
function zones(lo: number, hi: number) {
  return [
    <ReferenceArea key="hiz" x1={0} x2={LAST} y1={hi} y2={100} fill="#00ff00" fillOpacity={0.5} stroke="none" zIndex={600} />,
    <ReferenceArea key="loz" x1={0} x2={LAST} y1={0} y2={lo} fill="#ff0000" fillOpacity={0.5} stroke="none" zIndex={600} />,
    <ReferenceLine key="hil" segment={[{ x: 0, y: hi }, { x: LAST, y: hi }]} stroke="#111" strokeDasharray="2 1" zIndex={650} />,
    <ReferenceLine key="lol" segment={[{ x: 0, y: lo }, { x: LAST, y: lo }]} stroke="#111" strokeDasharray="2 1" zIndex={650} />,
    <ReferenceLine key="hie" segment={[{ x: LAST, y: hi }, { x: LAST, y: 100 }]} stroke="#111" zIndex={650} />,
    <ReferenceLine key="loe" segment={[{ x: LAST, y: 0 }, { x: LAST, y: lo }]} stroke="#111" zIndex={650} />,
  ];
}

export default function App() {
  return (
    <div style={{ position: "absolute", left: 0, top: 0, width: W, height: 733, background: "#fff", fontFamily: FONT, overflow: "hidden" }}>
      <style>{`.recharts-surface{overflow:visible}`}</style>
      {/* price panel */}
      <div style={{ position: "absolute", left: 0, top: 0 }}>
        <ComposedChart width={W} height={474} data={rows} margin={{ top: 1, right: 0, bottom: 0, left: 0 }} barCategoryGap={0}>
          <CartesianGrid vertical={false} stroke="#e4e4e4" fill="#f7f7f7" />
          <XAxis dataKey="i" type="category" hide padding={X_PAD} />
          <YAxis {...yAxisProps} domain={[2789.6, 2866.8]} ticks={PRICE_TICKS} />
          {DAY_STARTS.map((d) => (
            <ReferenceLine key={d} x={d} stroke="#e2e2e2" />
          ))}
          <Line dataKey="s200" stroke="#ff3cff" strokeWidth={1.3} dot={false} connectNulls type="monotone" isAnimationActive={false} />
          <Line dataKey="s100" stroke="#2f62c0" strokeWidth={1.3} dot={false} connectNulls type="monotone" isAnimationActive={false} />
          <Line dataKey="s50" stroke="#ff2a2a" strokeWidth={1.1} dot={false} connectNulls type="monotone" isAnimationActive={false} />
          <Bar dataKey="range" shape={(p: any) => <Candle {...p} />} isAnimationActive={false} />
          {LEVELS.map((v) => (
            <ReferenceLine key={v} y={v} stroke="#ff0000" strokeWidth={2} />
          ))}
          <ReferenceLine y={PREV_LEVEL} stroke="#9a9a9a" />
          <ReferenceLine y={LAST_PRICE} stroke="#2d4466" />
        </ComposedChart>
      </div>

      {/* RSI panel */}
      <div style={{ position: "absolute", left: 0, top: 483 }}>
        <ComposedChart width={W} height={125} data={rows} margin={{ top: 1, right: 0, bottom: 1, left: 0 }}>
          <CartesianGrid vertical={false} stroke="#e4e4e4" fill="#f7f7f7" />
          <XAxis dataKey="i" type="category" hide padding={X_PAD} />
          <YAxis {...yAxisProps} domain={[0, 100]} ticks={[0, 20, 40, 60, 80]} />
          {DAY_STARTS.map((d) => (
            <ReferenceLine key={d} x={d} stroke="#e2e2e2" />
          ))}
          <Line dataKey="rsi" stroke="#2438ff" strokeWidth={1.1} dot={false} isAnimationActive={false} />
          {zones(30, 70)}
        </ComposedChart>
      </div>

      {/* stochastic panel */}
      <div style={{ position: "absolute", left: 0, top: 618 }}>
        <ComposedChart width={W} height={115} data={rows} margin={{ top: 1, right: 0, bottom: 0, left: 0 }}>
          <CartesianGrid vertical={false} horizontal={false} fill="#f7f7f7" />
          <XAxis
            dataKey="i"
            type="category"
            padding={X_PAD}
            height={26.5}
            ticks={TICK_BARS}
            interval={0}
            tick={<XTick />}
            tickSize={4}
            tickMargin={6}
            tickLine={{ stroke: "#999" }}
            axisLine={{ stroke: "#cfd6e0" }}
          />
          <YAxis {...yAxisProps} domain={[0, 100]} ticks={[0, 50]} />
          {DAY_STARTS.map((d) => (
            <ReferenceLine key={d} x={d} stroke="#e2e2e2" />
          ))}
          <ReferenceLine y={50} stroke="#555" strokeWidth={1.2} />
          <Line dataKey="k" stroke="#ff1a1a" strokeWidth={1.1} dot={false} connectNulls isAnimationActive={false} />
          <Line dataKey="d" stroke="#2f48ff" strokeWidth={1.1} dot={false} connectNulls isAnimationActive={false} />
          {zones(20, 80)}
        </ComposedChart>
      </div>

      {/* watermark: one condensed text */}
      <svg style={{ position: "absolute", left: 12, top: 420, opacity: 0.75 }} width={140} height={40}>
        <g transform="translate(3,33) scale(0.58,1)">
          <text x={0} y={0} fontSize={36} fontWeight="bold" fontFamily={FONT}>
            <tspan fill="#8c8c8c">FX</tspan>
            <tspan fill="#f0b46c">STREET</tspan>
          </text>
        </g>
      </svg>

      {/* panel frames */}
      <div style={{ position: "absolute", left: 0, top: 0, width: 1847, height: 473, border: "1px solid #d5dbe5", borderRight: "none", pointerEvents: "none" }} />
      <div style={{ position: "absolute", left: 0, top: 483, width: 1847, height: 124, border: "1px solid #d5dbe5", borderRight: "none", pointerEvents: "none" }} />
      <div style={{ position: "absolute", left: 0, top: 618, width: 1847, height: 88, border: "1px solid #d5dbe5", borderRight: "none", borderBottom: "none", pointerEvents: "none" }} />
      <Handle y={476} />
      <Handle y={611} />

      {/* legends */}
      <Tag x={5} y={5} w={65} bar="#2a8a74" text="SP 500" />
      <Tag x={5} y={32} w={84} bar="#ff0000" text="SMA (50,0)" />
      <Tag x={5} y={59} w={90} bar="#2f62c0" text="SMA (100,0)" />
      <Tag x={5} y={86} w={90} bar="#ff2bff" text="SMA (200,0)" />
      <Tag x={5} y={487} w={110} bar="#2438ff" text="RSI (14,70,30,1)" />
      <Tag x={5} y={622} w={138} bar="#ff1a1a" text="FUSTO (14,3,3,80,20)" />

      {/* last price tag */}
      <div
        style={{
          position: "absolute", left: 1850, top: 172, width: 53, height: 13, background: "#2c4365", color: "#fff",
          font: `bold 11px ${FONT}`, lineHeight: "13px", textAlign: "center", borderRadius: 2,
        }}
      >
        {fmt(LAST_PRICE)}
      </div>
    </div>
  );
}
